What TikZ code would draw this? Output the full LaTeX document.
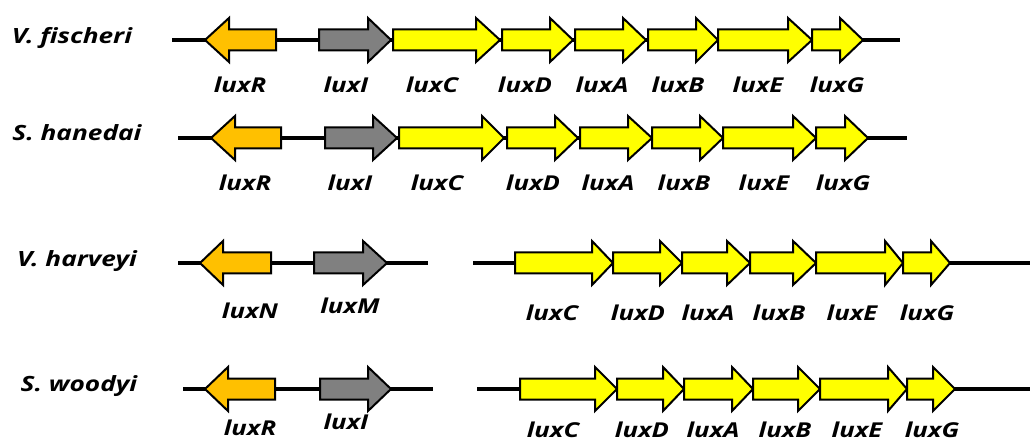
\documentclass[tikz,border=0pt]{standalone}
\usepackage{fontspec}
\setmainfont{Open Sans}
\newfontfamily\genefont[FakeStretch=1.25]{Open Sans}
\usetikzlibrary{positioning}
\definecolor{genR}{HTML}{FFC000}
\definecolor{genI}{HTML}{808080}
\definecolor{genY}{HTML}{FFFF00}
% gene arrow: fill, body end, head base, tip, axis
\newcommand{\genearrow}[5]{%
  \draw[gene, fill=#1] (#2,#5-10.5) -- (#3,#5-10.5) -- (#3,#5-22) -- (#4,#5)
    -- (#3,#5+22) -- (#3,#5+10.5) -- (#2,#5+10.5) -- cycle;}

\begin{document}
\begin{tikzpicture}[x=1pt,y=-1pt,
    gene/.style={draw=black, line width=2pt, line join=miter},
    backbone/.style={line width=4.5pt},
    lbl/.style={font=\genefont\fontsize{20.5}{24}\selectfont\bfseries\itshape, inner sep=0pt},
    sp/.style={font=\genefont\fontsize{21}{25}\selectfont\bfseries\itshape, inner sep=0pt}]
  \useasboundingbox (0,0) rectangle (1030,443);

  % V. fischeri
  \node[sp] (vf) at (72,38) {V. fischeri};
  \coordinate (vfs) at (172,40);
  \coordinate (vfe) at (900,40);
  \draw[backbone] (vfs) -- (vfe);
  \genearrow{genR}{276}{229}{205}{40}
  \genearrow{genI}{319}{368}{391}{40}
  \foreach \a/\b/\c in {393/476/500, 502/550/573, 575/623/646, 648/696/718, 718/788/812, 812/840/863}
    \genearrow{genY}{\a}{\b}{\c}{40};
  \foreach \x/\t in {240/luxR, 346/luxI, 432/luxC, 525/luxD, 602/luxA, 678/luxB, 758/luxE, 837/luxG}
    \node[lbl] (vf\t) at (\x,85) {\t};

  % S. hanedai
  \node[sp] (sh) at (77,133) {S. hanedai};
  \coordinate (shs) at (178,138);
  \coordinate (she) at (907,138);
  \draw[backbone] (shs) -- (she);
  \genearrow{genR}{281}{235}{211}{138}
  \genearrow{genI}{325}{373}{397}{138}
  \foreach \a/\b/\c in {399/482/504, 507/555/578, 580/628/652, 652/700/723, 723/793/816, 816/845/868}
    \genearrow{genY}{\a}{\b}{\c}{138};
  \foreach \x/\t in {245/luxR, 350/luxI, 437/luxC, 533/luxD, 608/luxA, 684/luxB, 764/luxE, 843/luxG}
    \node[lbl] (sh\t) at (\x,183) {\t};

  % V. harveyi
  \node[sp] (vh) at (77,261) {V. harveyi};
  \coordinate (vhs) at (178,263);
  \coordinate (vhm) at (428,263);
  \coordinate (vhn) at (473,263);
  \coordinate (vhe) at (1030,263);
  \draw[backbone] (vhs) -- (vhm);
  \draw[backbone] (vhn) -- (vhe);
  \genearrow{genR}{271}{223}{200}{263}
  \genearrow{genI}{314}{363}{387}{263}
  \foreach \a/\b/\c in {515/592/613, 613/660/682, 682/727/750, 750/793/816, 816/885/903, 903/931/950}
    \genearrow{genY}{\a}{\b}{\c}{263};
  \node[lbl] (vhluxN) at (250,311) {luxN};
  \node[lbl] (vhluxM) at (350,306) {luxM};
  \foreach \x/\t in {552/luxC, 638/luxD, 708/luxA, 779/luxB, 852/luxE, 927/luxG}
    \node[lbl] (vh\t) at (\x,313) {\t};

  % S. woodyi
  \node[sp] (sw) at (79,386) {S. woodyi};
  \coordinate (sws) at (183,389);
  \coordinate (swm) at (433,389);
  \coordinate (swn) at (477,389);
  \coordinate (swe) at (1030,389);
  \draw[backbone] (sws) -- (swm);
  \draw[backbone] (swn) -- (swe);
  \genearrow{genR}{275}{228}{205}{389}
  \genearrow{genI}{320}{368}{391}{389}
  \foreach \a/\b/\c in {520/595/617, 617/663/684, 684/732/753, 753/798/820, 820/888/907, 907/933/955}
    \genearrow{genY}{\a}{\b}{\c}{389};
  \node[lbl] (swluxR) at (250,428) {luxR};
  \node[lbl] (swluxI) at (346,422) {luxI};
  \foreach \x/\t in {553/luxC, 642/luxD, 713/luxA, 785/luxB, 857/luxE, 932/luxG}
    \node[lbl] (sw\t) at (\x,430) {\t};
\end{tikzpicture}
\end{document}
